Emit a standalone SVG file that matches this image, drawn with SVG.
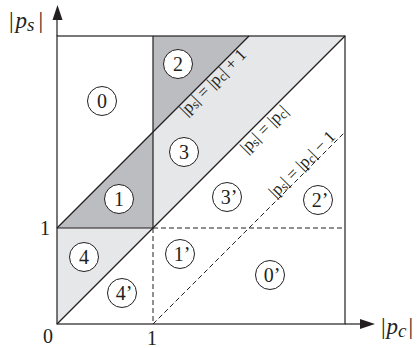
<svg xmlns="http://www.w3.org/2000/svg" width="417" height="348" viewBox="0 0 417 348">
<style>
.ln{stroke:#231f20;stroke-width:1.2;fill:none}
.ds{stroke:#231f20;stroke-width:1;fill:none;stroke-dasharray:5 3}
.dk{fill:#bcbdc0}
.lt{fill:#e6e7e8}
.c{fill:#fff;stroke:#231f20;stroke-width:1}
.t{font-family:"Liberation Serif",serif;font-size:20px;fill:#231f20;text-anchor:middle}
.d{font-family:"Liberation Serif",serif;font-size:17px;fill:#231f20;text-anchor:middle}
.a{font-family:"Liberation Serif",serif;font-size:23px;fill:#231f20}
.i{font-style:italic}
</style>
<g id="regions">
<polygon class="dk" points="153,132 153,36 249,36"/>
<polygon class="dk" points="57,228 153,228 153,132"/>
<polygon class="lt" points="153,228 153,132 249,36 345,36"/>
<polygon class="lt" points="57,324 57,228 153,228"/>
</g>
<g id="connectors">
<rect class="ln" x="57" y="36" width="288" height="288"/>
<line class="ln" x1="57" y1="324" x2="345" y2="36"/>
<line class="ln" x1="57" y1="228" x2="249" y2="36"/>
<line class="ln" x1="153" y1="228" x2="153" y2="36"/>
<line class="ln" x1="57" y1="228" x2="153" y2="228"/>
<line class="ds" x1="153" y1="228" x2="345" y2="228"/>
<line class="ds" x1="153" y1="228" x2="153" y2="324"/>
<line class="ds" x1="153" y1="324" x2="345" y2="132"/>
<line class="ln" x1="57" y1="36" x2="57" y2="16"/>
<polygon fill="#231f20" points="57.5,5 52.5,20 62.5,20"/>
<line class="ln" x1="345" y1="324" x2="362" y2="324"/>
<polygon fill="#231f20" points="375,324 360,319 360,329"/>
</g>
<g id="axis-labels">
<text class="a" x="9" y="28">|<tspan class="i" dx="2">p</tspan><tspan class="i" font-size="19" dy="3">s</tspan><tspan dx="4" dy="-3">|</tspan></text>
<text class="a" x="381" y="334">|<tspan class="i" dx="1">p</tspan><tspan class="i" font-size="19" dy="3">c</tspan><tspan dx="2" dy="-3">|</tspan></text>
<text class="t" x="48" y="343">0</text>
<text class="t" x="152" y="345">1</text>
<text class="t" x="45" y="235">1</text>
</g>
<g id="n0"><circle class="c" cx="102" cy="101" r="14.5"/><text class="t" x="102" y="108">0</text></g>
<g id="n2"><circle class="c" cx="178" cy="64" r="14.5"/><text class="t" x="178" y="71">2</text></g>
<g id="n3"><circle class="c" cx="184" cy="152" r="14.5"/><text class="t" x="184" y="159">3</text></g>
<g id="n1"><circle class="c" cx="119" cy="199" r="14.5"/><text class="t" x="119" y="206">1</text></g>
<g id="n4"><circle class="c" cx="84" cy="257" r="14.5"/><text class="t" x="84" y="264">4</text></g>
<g id="n4p"><circle class="c" cx="122" cy="293" r="14.5"/><text class="t" x="124" y="300">4’</text></g>
<g id="n1p"><circle class="c" cx="180" cy="254" r="14.5"/><text class="t" x="182" y="261">1’</text></g>
<g id="n3p"><circle class="c" cx="227" cy="197" r="14.5"/><text class="t" x="229" y="204">3’</text></g>
<g id="n2p"><circle class="c" cx="318" cy="200" r="14.5"/><text class="t" x="320" y="207">2’</text></g>
<g id="n0p"><circle class="c" cx="270" cy="275" r="14.5"/><text class="t" x="272" y="282">0’</text></g>
<g id="line-labels">
<text class="d" transform="translate(214,83) rotate(-45)" y="4">|p<tspan font-size="13" dy="2">s</tspan><tspan dy="-2">| = |p</tspan><tspan font-size="13" dy="2">c</tspan><tspan dy="-2">| + 1</tspan></text>
<text class="d" transform="translate(265,130) rotate(-45)" y="4">|p<tspan font-size="13" dy="2">s</tspan><tspan dy="-2">| = |p</tspan><tspan font-size="13" dy="2">c</tspan><tspan dy="-2">|</tspan></text>
<text class="d" transform="translate(303,165) rotate(-45)" y="4">|p<tspan font-size="13" dy="2">s</tspan><tspan dy="-2">| = |p</tspan><tspan font-size="13" dy="2">c</tspan><tspan dy="-2">| − 1</tspan></text>
</g>
</svg>
